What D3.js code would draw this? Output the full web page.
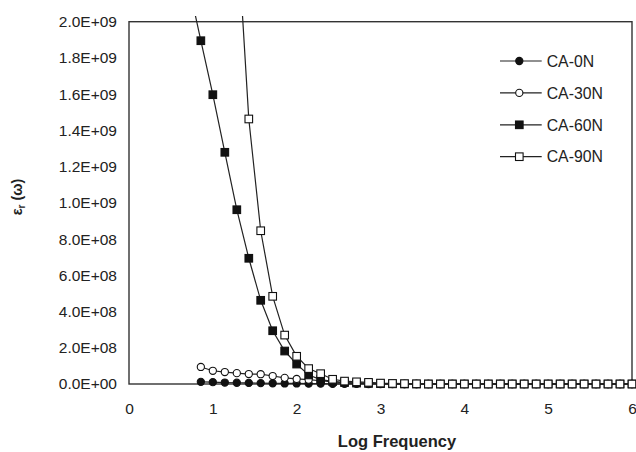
<!DOCTYPE html>
<html>
<head>
<meta charset="utf-8">
<script src="https://cdn.jsdelivr.net/npm/d3@7"></script>
<style>
  body { margin: 0; background: #fff; }
  text { font-family: "Liberation Sans", Arial, sans-serif; fill: #222; }
</style>
</head>
<body>
<div id="chart"></div>
<script>
var svgWidth = 636;
var svgHeight = 452;

// log frequency points (7 per decade)
var logFreq = [0.714, 0.857, 1.000, 1.143, 1.286, 1.429, 1.571, 1.714, 1.857, 2.000, 2.143, 2.286,
  2.429, 2.571, 2.714, 2.857, 3.000, 3.143, 3.286, 3.429, 3.571, 3.714, 3.857, 4.000,
  4.143, 4.286, 4.429, 4.571, 4.714, 4.857, 5.000, 5.143, 5.286, 5.429, 5.571, 5.714,
  5.857, 6.000];

// permittivity values, null = not measured
var ca0N = [null, 1.2e7, 1.0e7, 8e6, 7e6, 6e6, 5e6, 4e6, 3e6, 3e6, 2e6, 2e6,
  1e6, 1e6, 1e6, 0, 0, 0, 0, 0, 0, 0, 0, 0,
  0, 0, 0, 0, 0, 0, 0, 0, 0, 0, 0, 0, 0, 0];
var ca30N = [null, 9.4e7, 7.3e7, 6.6e7, 6.0e7, 5.5e7, 5.4e7, 4.4e7, 3.4e7, 2.8e7, 2.4e7, 1.8e7,
  1.2e7, 8e6, 5e6, 3e6, 2e6, 1e6, 0, 0, 0, 0, 0, 0,
  0, 0, 0, 0, 0, 0, 0, 0, 0, 0, 0, 0, 0, 0];
var ca60N = [2.2e9, 1.895e9, 1.597e9, 1.279e9, 9.62e8, 6.94e8, 4.62e8, 2.94e8, 1.82e8, 1.10e8, 5.0e7, 2.4e7,
  1.4e7, 8e6, 5e6, 3e6, 2e6, 1e6, 0, 0, 0, 0, 0, 0,
  0, 0, 0, 0, 0, 0, 0, 0, 0, 0, 0, 0, 0, 0];
var ca90N = [null, null, null, null, 2.55e9, 1.463e9, 8.46e8, 4.84e8, 2.70e8, 1.53e8, 8.5e7, 5.7e7,
  2.6e7, 1.6e7, 1.2e7, 9e6, 5e6, 3e6, 2e6, 1e6, 0, 0, 0, 0,
  0, 0, 0, 0, 0, 0, 0, 0, 0, 0, 0, 0, 0, 0];

var seriesNames = ["CA-0N", "CA-30N", "CA-60N", "CA-90N"];
var seriesValues = [ca0N, ca30N, ca60N, ca90N];
var seriesShapes = ["circle", "circle", "square", "square"];
var seriesFilled = [true, false, true, false];

var yTicks = [0, 2e8, 4e8, 6e8, 8e8, 1e9, 1.2e9, 1.4e9, 1.6e9, 1.8e9, 2e9];
var xTicks = [0, 1, 2, 3, 4, 5, 6];

var plot = { left: 129, right: 632, top: 21.7, bottom: 384 };

var svg = d3.select("#chart")
  .append("svg")
  .attr("width", svgWidth)
  .attr("height", svgHeight);

var xScale = d3.scaleLinear().domain([0, 6]).range([plot.left, plot.right]);
var yScale = d3.scaleLinear().domain([0, 2e9]).range([plot.bottom, plot.top]);

// Excel-like exponent labels
function sci(d) {
  var parts = d.toExponential(1).split("e");
  var e = parts[1];
  return parts[0] + "E" + e[0] + e.slice(1).padStart(2, "0");
}

// clip lines slightly above the frame like the original
svg.append("clipPath").attr("id", "clip")
  .append("rect")
  .attr("x", plot.left)
  .attr("y", 16)
  .attr("width", plot.right - plot.left + 10)
  .attr("height", plot.bottom - 16 + 10);

// frame
svg.append("rect")
  .attr("x", plot.left)
  .attr("y", plot.top)
  .attr("width", plot.right - plot.left)
  .attr("height", plot.bottom - plot.top)
  .attr("fill", "none")
  .attr("stroke", "#333")
  .attr("stroke-width", 1.4);

// axes
var leftAxis = d3.axisLeft(yScale).tickValues(yTicks).tickFormat(sci).tickSize(0).tickPadding(12);
var bottomAxis = d3.axisBottom(xScale).tickValues(xTicks).tickFormat(d3.format("d")).tickSize(0).tickPadding(19);

var gy = svg.append("g").attr("transform", `translate(${plot.left},0)`).call(leftAxis);
var gx = svg.append("g").attr("transform", `translate(0,${plot.bottom})`).call(bottomAxis);
[gy, gx].forEach(function(g) {
  g.select(".domain").remove();
  g.selectAll("text")
    .attr("font-family", "'Liberation Sans', Arial, sans-serif")
    .attr("font-size", "15.5px")
    .attr("fill", "#222");
});

// series
var line = d3.line()
  .defined(d => d[1] != null)
  .x(d => xScale(d[0]))
  .y(d => yScale(d[1]));

seriesValues.forEach(function(vals, i) {
  var pts = logFreq.map((f, j) => [f, vals[j]]);
  var g = svg.append("g");
  g.append("path")
    .datum(pts)
    .attr("clip-path", "url(#clip)")
    .attr("d", line)
    .attr("fill", "none")
    .attr("stroke", "#222")
    .attr("stroke-width", 1.2);

  var shown = pts.filter(d => d[1] != null && d[1] <= 2e9);
  if (seriesShapes[i] == "circle") {
    g.selectAll("circle")
      .data(shown)
      .enter()
      .append("circle")
      .attr("cx", d => xScale(d[0]))
      .attr("cy", d => yScale(d[1]))
      .attr("r", 3.6)
      .attr("fill", seriesFilled[i] ? "#111" : "#fff")
      .attr("stroke", "#111")
      .attr("stroke-width", 1.1);
  } else {
    g.selectAll("rect")
      .data(shown)
      .enter()
      .append("rect")
      .attr("x", d => xScale(d[0]) - 3.8)
      .attr("y", d => yScale(d[1]) - 3.8)
      .attr("width", 7.6)
      .attr("height", 7.6)
      .attr("fill", seriesFilled[i] ? "#111" : "#fff")
      .attr("stroke", "#111")
      .attr("stroke-width", 1.1);
  }
});

// legend
var legend = svg.append("g").attr("transform", "translate(500,61)");
seriesNames.forEach(function(name, i) {
  var item = legend.append("g").attr("transform", `translate(0,${i * 31.9})`);
  item.append("line")
    .attr("x1", 0).attr("x2", 41.7)
    .attr("y1", 0).attr("y2", 0)
    .attr("stroke", "#222")
    .attr("stroke-width", 1.2);
  if (seriesShapes[i] == "circle") {
    item.append("circle")
      .attr("cx", 19.3).attr("cy", 0).attr("r", 3.6)
      .attr("fill", seriesFilled[i] ? "#111" : "#fff")
      .attr("stroke", "#111").attr("stroke-width", 1.1);
  } else {
    item.append("rect")
      .attr("x", 19.3 - 3.8).attr("y", -3.8)
      .attr("width", 7.6).attr("height", 7.6)
      .attr("fill", seriesFilled[i] ? "#111" : "#fff")
      .attr("stroke", "#111").attr("stroke-width", 1.1);
  }
  item.append("text")
    .attr("x", 46.7)
    .attr("y", 0)
    .attr("dy", "0.36em")
    .attr("font-size", "15.8px")
    .text(name);
});

// axis titles
svg.append("text")
  .attr("x", 397)
  .attr("y", 447)
  .attr("text-anchor", "middle")
  .attr("font-size", "16.5px")
  .attr("font-weight", "bold")
  .text("Log Frequency");

var yTitle = svg.append("text")
  .attr("transform", "translate(22,197) rotate(-90)")
  .attr("text-anchor", "middle")
  .attr("font-size", "14.5px")
  .attr("font-weight", "bold");
yTitle.append("tspan").text("ε");
yTitle.append("tspan").attr("font-size", "10px").attr("dy", "3").text("r");
yTitle.append("tspan").attr("dy", "-3").text(" (ω)");
</script>
</body>
</html>
